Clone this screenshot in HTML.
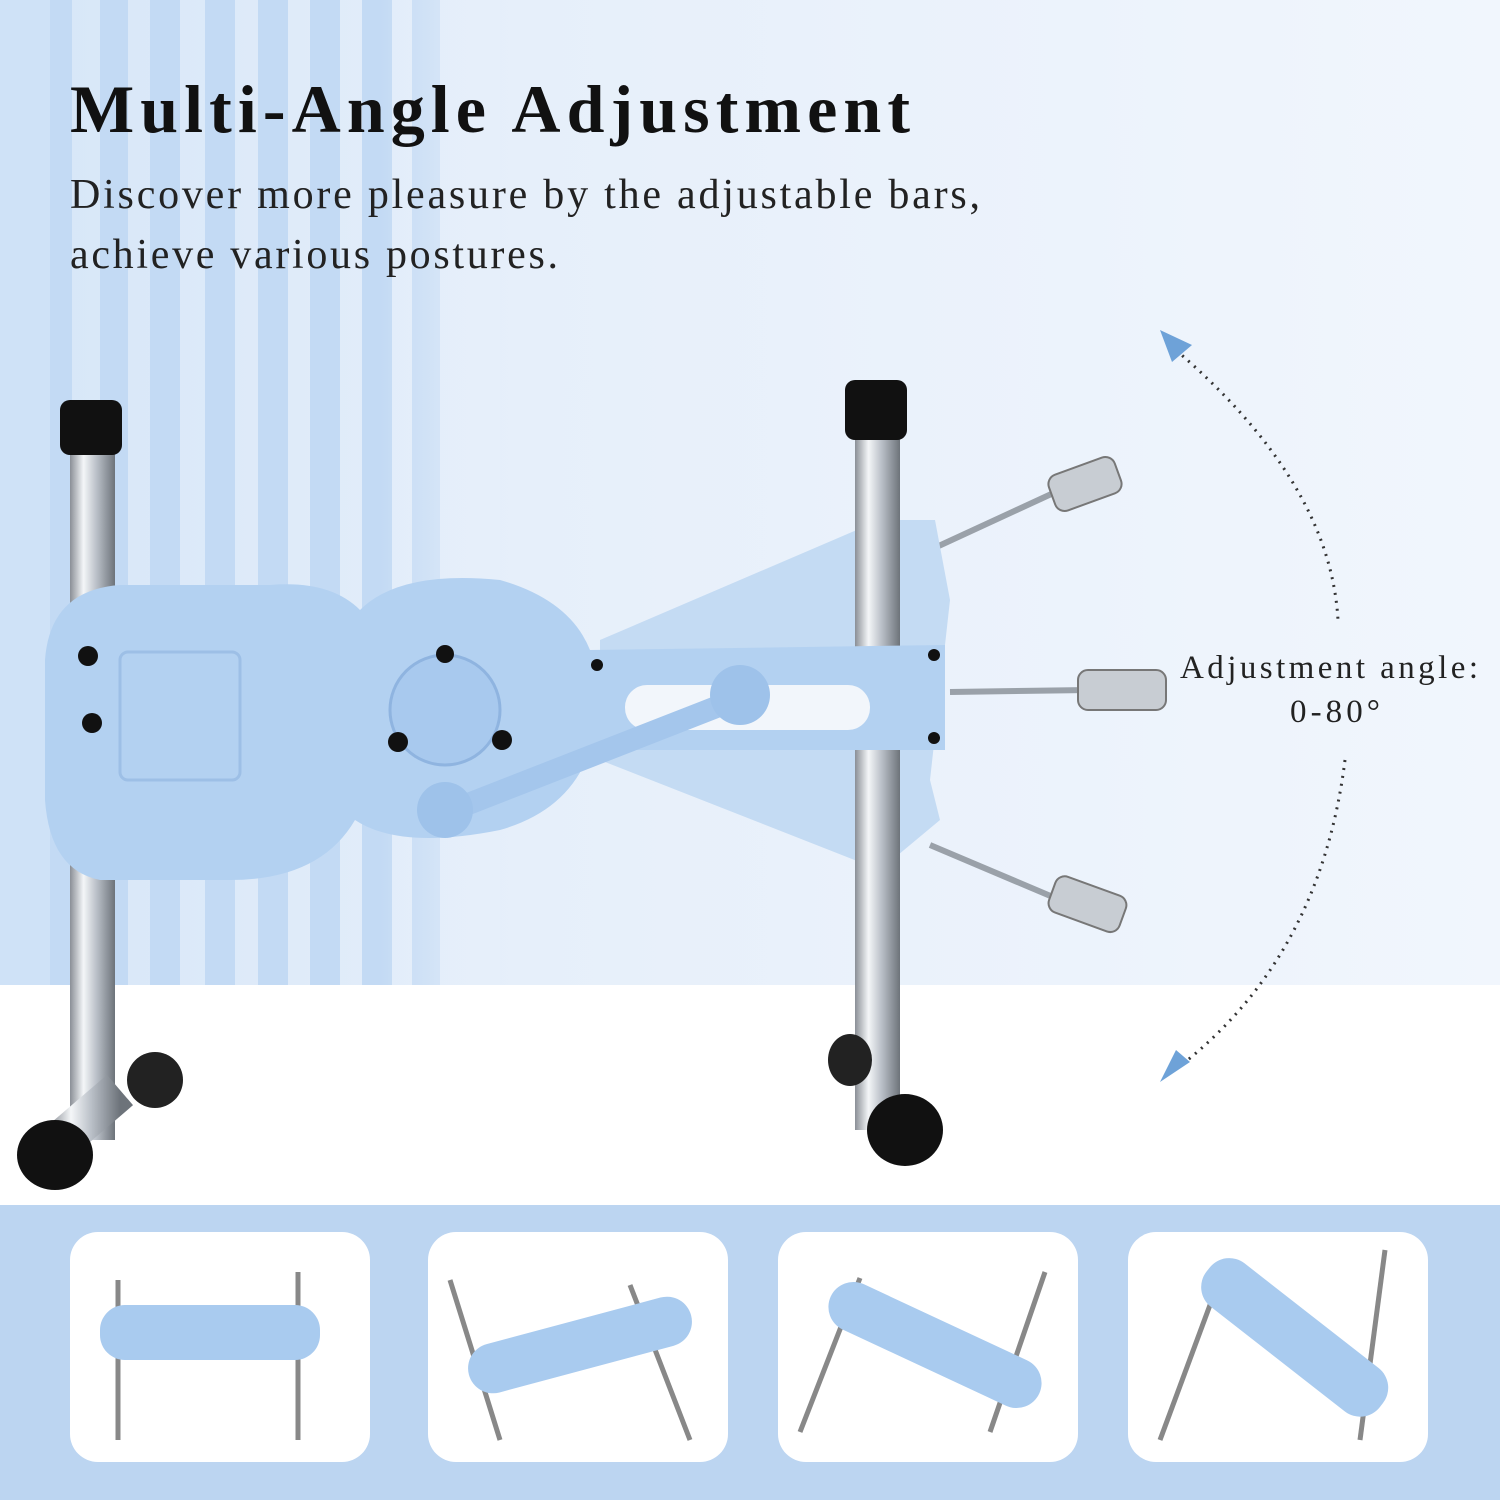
<!DOCTYPE html>
<html><head><meta charset="utf-8"><style>
html,body{margin:0;padding:0;width:1500px;height:1500px;overflow:hidden;background:#fff}
svg{display:block}
</style></head><body>
<svg width="1500" height="1500" viewBox="0 0 1500 1500" xmlns="http://www.w3.org/2000/svg">
<defs>
<linearGradient id="bg" x1="0" x2="1" y1="0" y2="0">
<stop offset="0" stop-color="#d6e6f8"/><stop offset="0.35" stop-color="#e6effa"/><stop offset="1" stop-color="#f1f6fd"/>
</linearGradient>
<linearGradient id="chrome" x1="0" x2="1">
<stop offset="0" stop-color="#8a8f96"/><stop offset="0.3" stop-color="#f4f6f8"/><stop offset="0.6" stop-color="#b8bec6"/><stop offset="1" stop-color="#6d737a"/>
</linearGradient>
<linearGradient id="fade" x1="0" x2="1">
<stop offset="0" stop-color="#e6effa" stop-opacity="0"/><stop offset="1" stop-color="#e6effa" stop-opacity="1"/>
</linearGradient>
</defs>
<rect width="1500" height="985" fill="url(#bg)"/>
<g fill="#c3daf4">
<rect x="50" y="0" width="22" height="985"/><rect x="100" y="0" width="28" height="985"/>
<rect x="150" y="0" width="30" height="985"/><rect x="205" y="0" width="30" height="985"/>
<rect x="258" y="0" width="30" height="985"/><rect x="310" y="0" width="30" height="985"/>
<rect x="362" y="0" width="30" height="985"/><rect x="412" y="0" width="28" height="985"/>
</g>
<rect x="0" y="0" width="50" height="985" fill="#cfe2f7"/>
<rect x="380" y="0" width="120" height="985" fill="url(#fade)"/>
<rect x="0" y="985" width="1500" height="220" fill="#fff"/>
<rect x="0" y="1205" width="1500" height="295" fill="#bcd5f1"/>
<g fill="#fff">
<rect x="70" y="1232" width="300" height="230" rx="28"/>
<rect x="428" y="1232" width="300" height="230" rx="28"/>
<rect x="778" y="1232" width="300" height="230" rx="28"/>
<rect x="1128" y="1232" width="300" height="230" rx="28"/>
</g>
<text x="70" y="132" textLength="840" lengthAdjust="spacing" font-family="Liberation Serif,serif" font-weight="bold" font-size="68" fill="#111">Multi-Angle Adjustment</text>
<text x="70" y="208" textLength="910" lengthAdjust="spacing" font-family="Liberation Serif,serif" font-size="42" fill="#222">Discover more pleasure by the adjustable bars,</text>
<text x="70" y="268" textLength="488" lengthAdjust="spacing" font-family="Liberation Serif,serif" font-size="42" fill="#222">achieve various postures.</text>
<text x="1180" y="678" textLength="298" lengthAdjust="spacing" font-family="Liberation Serif,serif" font-size="33" fill="#222">Adjustment angle:</text>
<text x="1290" y="722" textLength="90" lengthAdjust="spacing" font-family="Liberation Serif,serif" font-size="33" fill="#222">0-80°</text>
<path d="M1170 345 Q1330 480 1338 620" fill="none" stroke="#333" stroke-width="3" stroke-dasharray="2 6"/>
<path d="M1345 760 Q1320 960 1175 1070" fill="none" stroke="#333" stroke-width="3" stroke-dasharray="2 6"/>
<polygon points="1160,330 1192,345 1172,362" fill="#6ea2d8"/>
<polygon points="1160,1082 1190,1062 1176,1050" fill="#6ea2d8"/>
<g stroke="#9aa1a9" stroke-width="6">
<line x1="930" y1="550" x2="1060" y2="490"/><line x1="950" y1="692" x2="1090" y2="690"/><line x1="930" y1="845" x2="1060" y2="900"/>
</g>
<g fill="#c8cdd3" stroke="#777" stroke-width="2">
<rect x="1050" y="465" width="70" height="38" rx="10" transform="rotate(-20 1085 484)"/>
<rect x="1078" y="670" width="88" height="40" rx="10"/>
<rect x="1050" y="885" width="75" height="38" rx="10" transform="rotate(20 1087 904)"/>
</g>
<polygon points="600,640 880,520 935,520 950,600 930,780 940,820 880,870 600,760" fill="#c4dbf3"/>
<rect x="70" y="440" width="45" height="700" fill="url(#chrome)"/>
<rect x="60" y="400" width="62" height="55" rx="10" fill="#111"/>
<rect x="855" y="410" width="45" height="720" fill="url(#chrome)"/>
<rect x="845" y="380" width="62" height="60" rx="10" fill="#111"/>
<line x1="120" y1="1090" x2="50" y2="1150" stroke="url(#chrome)" stroke-width="40"/>
<ellipse cx="55" cy="1155" rx="38" ry="35" fill="#111"/>
<ellipse cx="155" cy="1080" rx="28" ry="28" fill="#222"/>
<ellipse cx="905" cy="1130" rx="38" ry="36" fill="#111"/>
<ellipse cx="850" cy="1060" rx="22" ry="26" fill="#222"/>
<path d="M45 660 Q50 590 120 585 L270 585 Q330 580 360 610 Q400 570 500 580 Q570 600 590 650 L945 645 L945 750 L590 750 Q570 810 500 830 Q400 850 355 820 Q320 880 230 880 L100 880 Q50 870 45 800 Z" fill="#b3d1f1"/>
<rect x="120" y="652" width="120" height="128" rx="8" fill="none" stroke="#9dbfe6" stroke-width="3"/>
<circle cx="445" cy="710" r="55" fill="#a8c9ee" stroke="#8fb4e0" stroke-width="3"/>
<rect x="625" y="685" width="245" height="45" rx="22" fill="#f2f6fb"/>
<line x1="440" y1="815" x2="760" y2="690" stroke="#a4c6ec" stroke-width="22"/>
<circle cx="445" cy="810" r="28" fill="#9ec2ea"/>
<circle cx="740" cy="695" r="30" fill="#9ec2ea"/>
<g fill="#111">
<circle cx="88" cy="656" r="10"/><circle cx="92" cy="723" r="10"/>
<circle cx="445" cy="654" r="9"/><circle cx="398" cy="742" r="10"/><circle cx="502" cy="740" r="10"/>
<circle cx="597" cy="665" r="6"/><circle cx="934" cy="655" r="6"/><circle cx="934" cy="738" r="6"/>
</g>
<g stroke="#888" stroke-width="5" fill="none">
<line x1="118" y1="1280" x2="118" y2="1440"/><line x1="298" y1="1272" x2="298" y2="1440"/>
<line x1="450" y1="1280" x2="500" y2="1440"/><line x1="630" y1="1285" x2="690" y2="1440"/>
<line x1="860" y1="1278" x2="800" y2="1432"/><line x1="1045" y1="1272" x2="990" y2="1432"/>
<line x1="1220" y1="1278" x2="1160" y2="1440"/><line x1="1385" y1="1250" x2="1360" y2="1440"/>
</g>
<g fill="#a9cbef">
<rect x="100" y="1305" width="220" height="55" rx="25"/>
<rect x="465" y="1320" width="230" height="50" rx="25" transform="rotate(-15 580 1345)"/>
<rect x="820" y="1320" width="230" height="50" rx="25" transform="rotate(25 935 1345)"/>
<rect x="1185" y="1310" width="220" height="55" rx="25" transform="rotate(38 1295 1337)"/>
</g>
</svg>
</body></html>
